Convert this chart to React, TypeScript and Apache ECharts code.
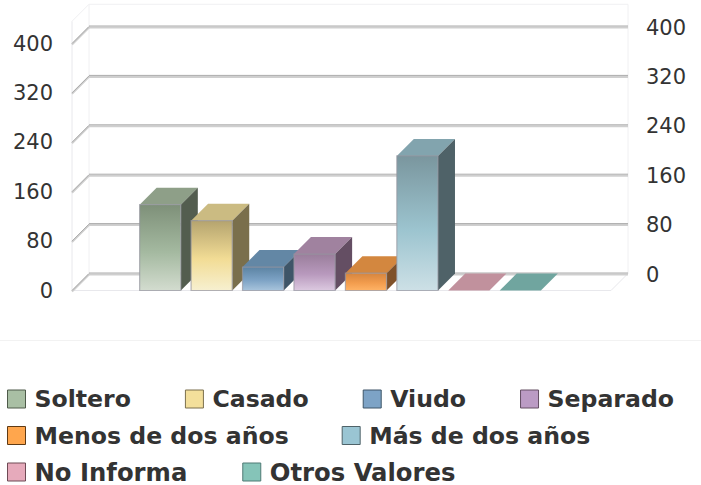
import React, { useEffect, useRef } from "react";
import * as echarts from "echarts";

const categories = ["Soltero", "Casado", "Viudo", "Separado", "Menos de dos años", "Más de dos años", "No Informa", "Otros Valores"];
const values = [139, 113, 38, 59, 28, 218, 0, 0];
const legendRows = [categories.slice(0, 4), categories.slice(4, 6), categories.slice(6, 8)];
const legendTops = [387, 423.5, 460];
const legendFontSizes = [23.6, 23.6, 24.3];
const legendGaps = [54, 53, 55];
const axisTicks = [0, 80, 160, 240, 320, 400];
const wallTop = 436;
const DEPTH = 17;

// top of front, middle, bottom of front, top face, side face
const gradients = [
  ["#7e9079", "#a4b9a0", "#d3dccf", "#8e9f88", "#535d4f"],
  ["#b5a46f", "#f2dc95", "#f7f0d0", "#cbbb82", "#7a6f4c"],
  ["#5c83a3", "#7ca2c4", "#a8c4dc", "#6387a5", "#3e5568"],
  ["#9a7e9b", "#b899bd", "#dcc9e0", "#a0829f", "#644e63"],
  ["#d5853f", "#f29c4d", "#ffb366", "#d3873f", "#7f5129"],
  ["#7a969e", "#9cc4cf", "#cde0e6", "#82a4ae", "#4f6268"],
  ["#c1919d", "#c1919d", "#c1919d", "#c1919d", "#8a6a72"],
  ["#70a59f", "#70a59f", "#70a59f", "#70a59f", "#4f7a75"],
];
const legendColors = ["#a9bfa4", "#f3df9b", "#7da3c6", "#bb9bc4", "#ffa64d", "#9ac5d3", "#e6aabb", "#85c4b8"];
const legendBorders = ["#4e5a4a", "#7a6f4c", "#3e5568", "#644e63", "#5f3a14", "#4f6268", "#6e4a55", "#4f7a75"];

function barSeries(name: string, idx: number) {
  const g = gradients[idx];
  return {
    type: "custom",
    name,
    xAxisIndex: 2,
    yAxisIndex: 2,
    z: 5,
    itemStyle: { color: legendColors[idx] },
    data: [[idx, values[idx]]],
    encode: { x: 0, y: 1 },
    renderItem: (_p: any, api: any) => {
      const top = api.coord([api.value(0), api.value(1)]);
      const base = api.coord([api.value(0), 0]);
      const w = api.size([1, 0])[0] * 0.8;
      const x0 = top[0] - w / 2;
      const x1 = top[0] + w / 2;
      const children: any[] = [
        {
          type: "polygon",
          shape: { points: [[x0, top[1]], [x1, top[1]], [x1 + DEPTH, top[1] - DEPTH], [x0 + DEPTH, top[1] - DEPTH]] },
          style: { fill: g[3] },
        },
      ];
      if (base[1] - top[1] > 0.5) {
        children.push(
          {
            type: "polygon",
            shape: { points: [[x1, top[1]], [x1 + DEPTH, top[1] - DEPTH], [x1 + DEPTH, base[1] - DEPTH], [x1, base[1]]] },
            style: { fill: g[4] },
          },
          {
            type: "rect",
            shape: { x: x0, y: top[1], width: w, height: base[1] - top[1] },
            style: {
              fill: new echarts.graphic.LinearGradient(0, 0, 0, 1, [
                { offset: 0, color: g[0] },
                { offset: 0.55, color: g[1] },
                { offset: 1, color: g[2] },
              ]),
              stroke: "rgba(150,150,160,0.7)",
              lineWidth: 1.2,
            },
          }
        );
      }
      return { type: "group", children };
    },
  };
}

const wallSeries = {
  type: "custom",
  name: "wall",
  xAxisIndex: 0,
  yAxisIndex: 0,
  z: 1,
  silent: true,
  data: [[wallTop]],
  encode: { y: 0 },
  renderItem: (_p: any, api: any) => {
    const t = api.value(0);
    const a = api.coord([0, 0]);
    const b = api.coord([1, 0]);
    const c = api.coord([0, t]);
    const d = api.coord([1, t]);
    const pale = { stroke: "#f0f0f2", lineWidth: 1, fill: "none" };
    return {
      type: "group",
      children: [
        { type: "polyline", shape: { points: [[c[0], c[1]], [c[0], a[1]], [b[0], b[1]], [b[0] + DEPTH, b[1] - DEPTH]] }, style: { ...pale, stroke: "#e8e8ec" } },
        { type: "polyline", shape: { points: [[c[0], c[1]], [c[0] + DEPTH, c[1] - DEPTH], [d[0] + DEPTH, d[1] - DEPTH], [d[0] + DEPTH, b[1] - DEPTH]] }, style: pale },
        { type: "line", shape: { x1: c[0] + DEPTH, y1: c[1] - DEPTH, x2: a[0] + DEPTH, y2: a[1] - DEPTH }, style: pale },
      ],
    };
  },
};

const gridSeries = {
  type: "custom",
  name: "gridlines",
  xAxisIndex: 0,
  yAxisIndex: 0,
  z: 2,
  silent: true,
  data: axisTicks.map((t) => [t]),
  encode: { y: 0 },
  renderItem: (_p: any, api: any) => {
    const v = api.value(0);
    const a = api.coord([0, v]);
    const b = api.coord([1, v]);
    const y = a[1] - DEPTH;
    return {
      type: "group",
      children: [
        { type: "line", shape: { x1: a[0] + DEPTH, y1: y + 1, x2: b[0] + DEPTH, y2: y + 1 }, style: { stroke: "#cfcfcf", lineWidth: 2 } },
        { type: "line", shape: { x1: a[0] + DEPTH, y1: y - 0.5, x2: b[0] + DEPTH, y2: y - 0.5 }, style: { stroke: "#ababab", lineWidth: 1 } },
        { type: "line", shape: { x1: a[0], y1: a[1] + 1, x2: a[0] + DEPTH, y2: y + 1 }, style: { stroke: "#cfcfcf", lineWidth: 2 } },
        { type: "line", shape: { x1: a[0], y1: a[1], x2: a[0] + DEPTH, y2: y }, style: { stroke: "#ababab", lineWidth: 1 } },
      ],
    };
  },
};

const tickLabel = { color: "#333333", fontFamily: "DejaVu Sans", fontSize: 21 };

export default function App() {
  const ref = useRef<HTMLDivElement>(null);
  useEffect(() => {
    document.body.style.margin = "0";
    const chart = echarts.init(ref.current!, undefined, { renderer: "svg" });
    chart.setOption({
      animation: false,
      backgroundColor: "#ffffff",
      grid: [
        { left: 72, width: 539, top: 43.5, height: 247 },
        { left: 89, width: 539, top: 27.5, height: 247 },
        { left: 134.5, width: 411.5, top: 43.5, height: 247 },
      ],
      xAxis: [
        { gridIndex: 0, type: "value", min: 0, max: 1, show: false },
        { gridIndex: 1, type: "value", min: 0, max: 1, show: false },
        { gridIndex: 2, type: "category", data: categories, show: false },
      ],
      yAxis: [
        {
          gridIndex: 0, type: "value", min: 0, max: 400, interval: 80, position: "left",
          axisLine: { show: false }, axisTick: { show: false }, splitLine: { show: false },
          axisLabel: { ...tickLabel, margin: 19 },
        },
        {
          gridIndex: 1, type: "value", min: 0, max: 400, interval: 80, position: "right",
          axisLine: { show: false }, axisTick: { show: false }, splitLine: { show: false },
          axisLabel: { ...tickLabel, margin: 18 },
        },
        { gridIndex: 2, type: "value", min: 0, max: 400, interval: 80, show: false },
      ],
      legend: legendRows.map((row, r) => ({
        left: 7,
        top: legendTops[r],
        padding: 0,
        itemGap: legendGaps[r],
        itemWidth: 18,
        itemHeight: 18,
        icon: "rect",
        selectedMode: false,
        textStyle: { color: "#333333", fontFamily: "DejaVu Sans", fontWeight: "bold", fontSize: legendFontSizes[r], padding: [0, 0, 0, 4] },
        data: row.map((name) => {
          const i = categories.indexOf(name);
          return { name, itemStyle: { color: legendColors[i], borderColor: legendBorders[i], borderWidth: 1 } };
        }),
      })),
      graphic: [
        { type: "line", shape: { x1: 0, y1: 340.5, x2: 701, y2: 340.5 }, style: { stroke: "#f2f2f2", lineWidth: 1 } },
      ],
      series: [wallSeries, gridSeries, ...categories.map(barSeries)],
    });
    return () => chart.dispose();
  }, []);
  return <div ref={ref} style={{ position: "fixed", left: 0, top: 0, width: 701, height: 485 }} />;
}
